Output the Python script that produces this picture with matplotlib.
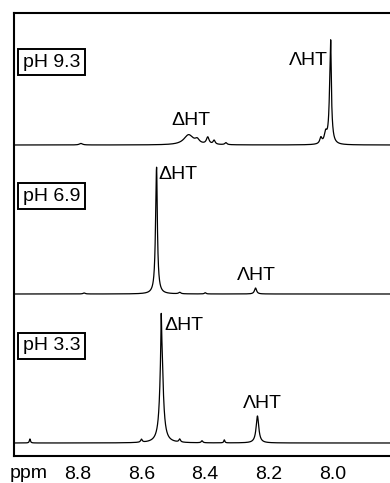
import numpy as np
import matplotlib
matplotlib.use("Agg")
from matplotlib import pyplot as plt

plt.rcParams['font.family'] = ['Liberation Sans', 'DejaVu Sans']

# peak tables: (shift ppm, height, half width ppm)
peaks_93 = [(8.007, 78, 0.004), (8.006, 30, 0.0012), (8.022, 10, 0.005), (8.037, 6, 0.004),
            (8.452, 10, 0.018), (8.425, 4, 0.008), (8.392, 7, 0.005), (8.372, 4, 0.004),
            (8.335, 2, 0.004), (8.79, 1.5, 0.006)]
peaks_69 = [(8.553, 118, 0.0035), (8.552, 14, 0.001), (8.242, 6, 0.004), (8.48, 1.5, 0.004),
            (8.40, 1.2, 0.003), (8.78, 1.0, 0.004)]
peaks_33 = [(8.537, 98, 0.006), (8.538, 34, 0.0012), (8.236, 27, 0.005), (8.95, 4, 0.002),
            (8.60, 3, 0.003), (8.48, 3, 0.003), (8.41, 2, 0.003), (8.34, 3, 0.002)]

spectra = [peaks_93, peaks_69, peaks_33]
labels = ["pH 9.3", "pH 6.9", "pH 3.3"]
offsets = [311, 162, 13]
box_y = [394, 260, 110]
# (x, y) of the ΔHT and ΛHT labels for each trace
delta_pos = [(8.446, 336), (8.487, 282), (8.468, 131)]
lambda_pos = [(8.076, 396), (8.239, 180), (8.22, 52)]

ticks = [8.8, 8.6, 8.4, 8.2, 8.0]

ppm = np.linspace(9.0, 7.8, 4000)

fig = plt.figure(figsize=(3.9, 4.83), dpi=100)
ax = fig.add_axes([14/390, 1-456/483, 1-14/390, 443/483])

for pk, off in zip(spectra, offsets):
    y = np.zeros_like(ppm)
    for c, h, w in pk:
        y += h / (1 + ((ppm - c) / w) ** 2)
    ax.plot(ppm, y + off, color='black', lw=0.9)

for lab, by in zip(labels, box_y):
    ax.text(8.972, by, lab, ha='left', va='center', fontsize=14,
            bbox=dict(boxstyle='square,pad=0.25', fc='white', ec='black', lw=1.4))

for (dx, dy), (lx, ly) in zip(delta_pos, lambda_pos):
    ax.text(dx, dy, "ΔHT", ha='center', va='center', fontsize=14)
    ax.text(lx, ly, "ΛHT", ha='center', va='center', fontsize=14)

ax.set_xlim(9.0, 7.82)
ax.set_ylim(0, 443)
ax.set_xticks(ticks)
ax.set_xticklabels([f"{t:.1f}" for t in ticks], fontsize=14)
ax.set_yticks([])
ax.tick_params(axis='x', length=0, pad=7)
ax.spines['right'].set_visible(False)
for s in ['left', 'top', 'bottom']:
    ax.spines[s].set_linewidth(1.5)

fig.text(29/390, 1-473/483, "ppm", ha='center', va='center', fontsize=14)

plt.savefig("out.png", dpi=100)
